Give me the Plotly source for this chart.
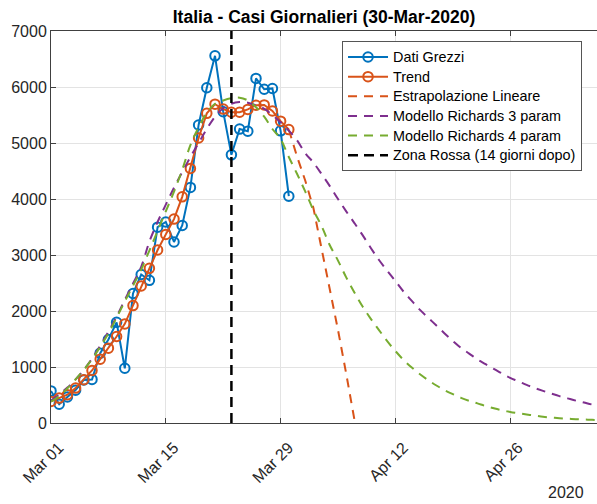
import pandas as pd
import plotly.graph_objects as go

# ---------------- data ----------------
start = "2020-03-01"
raw_dates = pd.date_range(start, periods=30, freq="D")
raw_cases = [573, 335, 466, 587, 769, 778, 1247, 1492, 1797, 977,
             2313, 2651, 2547, 3497, 3590, 3233, 3526, 4207, 5322, 5986,
             6557, 5560, 4789, 5249, 5210, 6153, 5959, 5974, 5217, 4050]

trend = [386, 445, 505, 624, 772, 938, 1140, 1337, 1544, 1770,
         2097, 2447, 2762, 3089, 3368, 3641, 4039, 4544, 5090, 5530,
         5693, 5605, 5550, 5550, 5600, 5675, 5680, 5572, 5390, 5240]

lin_dates = pd.date_range("2020-03-30", periods=9, freq="D")
lin_extrap = [5240, 4760, 4330, 3840, 3110, 2400, 1660, 880, 60]

model_dates = pd.date_range(start, periods=68, freq="D")
richards3 = [400, 510, 632, 780, 950, 1150, 1380, 1630, 1900, 2200,
             2490, 2790, 3240, 3590, 3900, 4200, 4480, 4750, 5000, 5250,
             5470, 5620, 5700, 5730, 5720, 5670, 5610, 5500, 5370, 5220,
             5050, 4820, 4650, 4445, 4230, 4000, 3780, 3570, 3355, 3125,
             2910, 2720, 2535, 2345, 2180, 2020, 1880, 1740, 1600, 1465,
             1340, 1240, 1135, 1050, 965, 885, 805, 745, 680, 625,
             573, 525, 480, 440, 400, 365, 330, 305]
richards4 = [380, 480, 620, 780, 950, 1140, 1360, 1600, 1880, 2170,
             2450, 2740, 3080, 3430, 3780, 4130, 4520, 4960, 5280, 5540,
             5700, 5760, 5800, 5810, 5760, 5640, 5470, 5250, 5070, 4750,
             4450, 4135, 3800, 3515, 3175, 2900, 2600, 2330, 2080, 1860,
             1660, 1460, 1285, 1125, 990, 870, 765, 670, 585, 515,
             450, 395, 350, 302, 262, 226, 198, 174, 152, 132,
             112, 98, 86, 77, 69, 62, 56, 51]

zona_rossa_date = ["2020-03-23", "2020-03-23"]
zona_rossa_y = [0, 7000]

xtick_vals = ["2020-03-01", "2020-03-15", "2020-03-29", "2020-04-12", "2020-04-26"]
xtick_text = ["Mar 01", "Mar 15", "Mar 29", "Apr 12", "Apr 26"]
ytick_vals = [0, 1000, 2000, 3000, 4000, 5000, 6000, 7000]

# ---------------- style ----------------
BLUE = "#0072BD"
ORANGE = "#D95319"
PURPLE = "#7E2F8E"
GREEN = "#77AC30"
FONT = "Liberation Sans, Arial, sans-serif"
TXT = "#262626"


def lg(name):
    return '<span style="font-size:14.4px">' + name + '</span>'


fig = go.Figure()
fig.add_trace(go.Scatter(x=raw_dates, y=raw_cases, name=lg("Dati Grezzi"),
                         mode="lines+markers",
                         line=dict(color=BLUE, width=2),
                         marker=dict(symbol="circle-open", size=9.5,
                                     color=BLUE, line=dict(width=2, color=BLUE))))
fig.add_trace(go.Scatter(x=raw_dates, y=trend, name=lg("Trend"),
                         mode="lines+markers",
                         line=dict(color=ORANGE, width=2),
                         marker=dict(symbol="circle-open", size=9.5,
                                     color=ORANGE, line=dict(width=2, color=ORANGE))))
fig.add_trace(go.Scatter(x=lin_dates, y=lin_extrap, name=lg("Estrapolazione Lineare"),
                         mode="lines", line=dict(color=ORANGE, width=2, dash="9px,7px")))
fig.add_trace(go.Scatter(x=model_dates, y=richards3, name=lg("Modello Richards 3 param"),
                         mode="lines", line=dict(color=PURPLE, width=2, dash="9px,7px",
                                                 shape="spline")))
fig.add_trace(go.Scatter(x=model_dates, y=richards4, name=lg("Modello Richards 4 param"),
                         mode="lines", line=dict(color=GREEN, width=2, dash="9px,7px",
                                                 shape="spline")))
fig.add_trace(go.Scatter(x=zona_rossa_date, y=zona_rossa_y,
                         name=lg("Zona Rossa (14 giorni dopo)"),
                         mode="lines", line=dict(color="black", width=2.5, dash="10px,6px")))

fig.update_layout(
    width=597, height=504,
    margin=dict(l=51, r=0, t=31, b=81, autoexpand=False),
    paper_bgcolor="white", plot_bgcolor="white",
    font=dict(family=FONT, size=16, color=TXT),
    title=dict(text="<b>Italia - Casi Giornalieri (30-Mar-2020)</b>",
               x=0.5, xref="paper", xanchor="center", y=0.966, yref="container",
               yanchor="middle", font=dict(family=FONT, size=17.5, color="black")),
    showlegend=True,
    legend=dict(x=0.533, y=0.974, xanchor="left", yanchor="top",
                bgcolor="white", bordercolor="#555555", borderwidth=1,
                font=dict(family=FONT, size=12.8, color="black"),
                tracegroupgap=0, itemwidth=40),
    xaxis=dict(type="date", range=["2020-03-01", "2020-05-06 14:00"],
               tickvals=xtick_vals, ticktext=xtick_text, tickangle=-45,
               automargin=False, ticklabelstandoff=8, ticklabelshift=8,
               showgrid=True, gridcolor="#e3e3e3", gridwidth=1,
               showline=True, linecolor="#404040", linewidth=1,
               ticks="inside", ticklen=5, tickcolor="#404040", mirror="ticks",
               zeroline=False, tickfont=dict(size=16, color=TXT)),
    yaxis=dict(range=[0, 7000], tickvals=ytick_vals, automargin=False,
               showgrid=True, gridcolor="#e3e3e3", gridwidth=1,
               showline=True, linecolor="#404040", linewidth=1,
               ticks="inside", ticklen=5, tickcolor="#404040",
               zeroline=False, tickfont=dict(size=16, color=TXT)),
    annotations=[dict(text="2020", xref="paper", yref="paper", x=1, y=-0.177,
                      xanchor="right", yanchor="middle", xshift=-11,
                      showarrow=False, font=dict(family=FONT, size=16, color=TXT))],
)

fig.write_html("out.html", config={"displayModeBar": False},
               post_script="document.body.style.margin='0';document.body.style.overflow='hidden';")
